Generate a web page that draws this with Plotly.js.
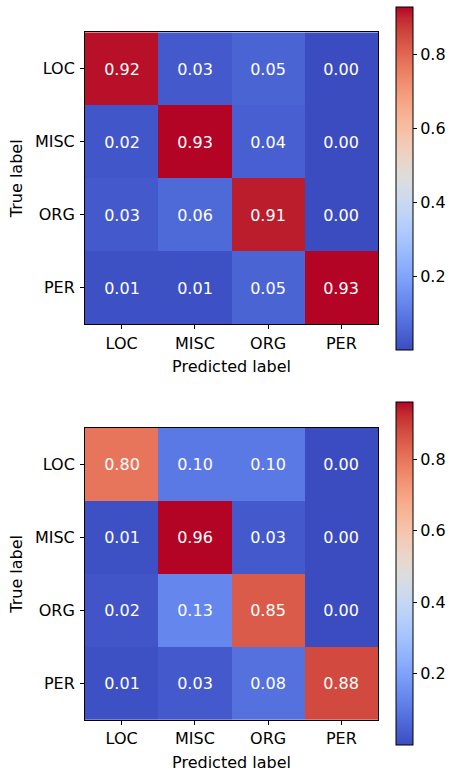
<!DOCTYPE html>
<html>
<head>
<meta charset="utf-8">
<script src="https://cdn.plot.ly/plotly-3.0.1.min.js"></script>
<style>
html,body{margin:0;padding:0;background:#fff;}
#chart{width:454px;height:772px;}
</style>
</head>
<body>
<div id="chart"></div>
<script>
const predictedLabels = ["LOC", "MISC", "ORG", "PER"];
const trueLabels = ["LOC", "MISC", "ORG", "PER"];
const matrixTop = [
  [0.92, 0.03, 0.05, 0.00],
  [0.02, 0.93, 0.04, 0.00],
  [0.03, 0.06, 0.91, 0.00],
  [0.01, 0.01, 0.05, 0.93]
];
const matrixBottom = [
  [0.80, 0.10, 0.10, 0.00],
  [0.01, 0.96, 0.03, 0.00],
  [0.02, 0.13, 0.85, 0.00],
  [0.01, 0.03, 0.08, 0.88]
];
const colorbarTicks = [0.2, 0.4, 0.6, 0.8];
const colorbarTickText = ["0.2", "0.4", "0.6", "0.8"];

const coolwarmRGB = [
  [59,76,192],[68,90,204],[77,104,215],[87,117,225],[98,130,234],[108,142,241],
  [119,154,247],[130,165,251],[141,176,254],[152,185,255],[163,194,255],[174,201,253],
  [184,208,249],[194,213,244],[204,217,238],[213,219,230],[221,221,221],[229,216,209],
  [236,211,197],[241,204,184],[245,196,172],[247,187,159],[247,177,147],[247,167,134],
  [244,154,123],[241,141,111],[236,127,99],[229,112,89],[222,96,77],[213,80,67],
  [203,62,56],[192,40,47],[180,4,38]
];
const coolwarm = coolwarmRGB.map((c, i) => [i / (coolwarmRGB.length - 1), `rgb(${c[0]},${c[1]},${c[2]})`]);

const W = 454, H = 772;
const FONT = "DejaVu Sans, sans-serif";
const FS = 16;

function heat(z, xa, ya, zmax, cbYCenter) {
  return {
    type: "heatmap",
    z: z, x: predictedLabels, y: trueLabels,
    xaxis: xa, yaxis: ya,
    colorscale: coolwarm,
    zmin: 0, zmax: zmax,
    texttemplate: "%{z:.2f}",
    textfont: {color: "#ffffff", size: FS, family: FONT},
    hoverinfo: "skip",
    colorbar: {
      x: 395.5 / W, xanchor: "left", xref: "paper",
      y: 1 - cbYCenter / H, yanchor: "middle",
      thickness: 17, thicknessmode: "pixels",
      len: 343, lenmode: "pixels",
      outlinewidth: 1, outlinecolor: "#000",
      tickvals: colorbarTicks, ticktext: colorbarTickText,
      ticks: "outside", ticklen: 4, tickwidth: 1, tickcolor: "#000",
      tickfont: {size: FS, family: FONT, color: "#000"},
      ticklabelstandoff: 2,
      xpad: 0, ypad: 0
    }
  };
}

const data = [
  heat(matrixTop, "x", "y", 0.93, 178.3),
  heat(matrixBottom, "x2", "y2", 0.96, 573.7)
];

function xax(anchor, dom) {
  return {
    domain: dom, anchor: anchor,
    type: "category",
    showline: true, mirror: true, linecolor: "#000", linewidth: 1,
    ticks: "outside", ticklen: 4, tickcolor: "#000", tickwidth: 1,
    tickfont: {size: FS, family: FONT, color: "#000"},
    showgrid: false, zeroline: false, fixedrange: true,
    title: {text: "Predicted label", font: {size: FS, family: FONT, color: "#000"}, standoff: 9}
  };
}
function yax(anchor, dom) {
  return {
    domain: dom, anchor: anchor,
    type: "category", autorange: "reversed",
    showline: true, mirror: true, linecolor: "#000", linewidth: 1,
    ticks: "outside", ticklen: 4, tickcolor: "#000", tickwidth: 1,
    tickfont: {size: FS, family: FONT, color: "#000"},
    ticklabelstandoff: 2,
    showgrid: false, zeroline: false, fixedrange: true,
    title: {text: "True label", font: {size: FS, family: FONT, color: "#000"}, standoff: 8}
  };
}

const xdom = [85 / W, 378 / W];
const layout = {
  width: W, height: H,
  margin: {l: 0, r: 0, t: 0, b: 0},
  paper_bgcolor: "#fff", plot_bgcolor: "#fff",
  showlegend: false,
  font: {family: FONT, size: FS, color: "#000"},
  xaxis: xax("y", xdom),
  yaxis: yax("x", [1 - 324.3 / H, 1 - 32.3 / H]),
  xaxis2: xax("y2", xdom),
  yaxis2: yax("x2", [1 - 720 / H, 1 - 427.7 / H])
};

Plotly.newPlot("chart", data, layout, {displayModeBar: false, staticPlot: true});
</script>
</body>
</html>
